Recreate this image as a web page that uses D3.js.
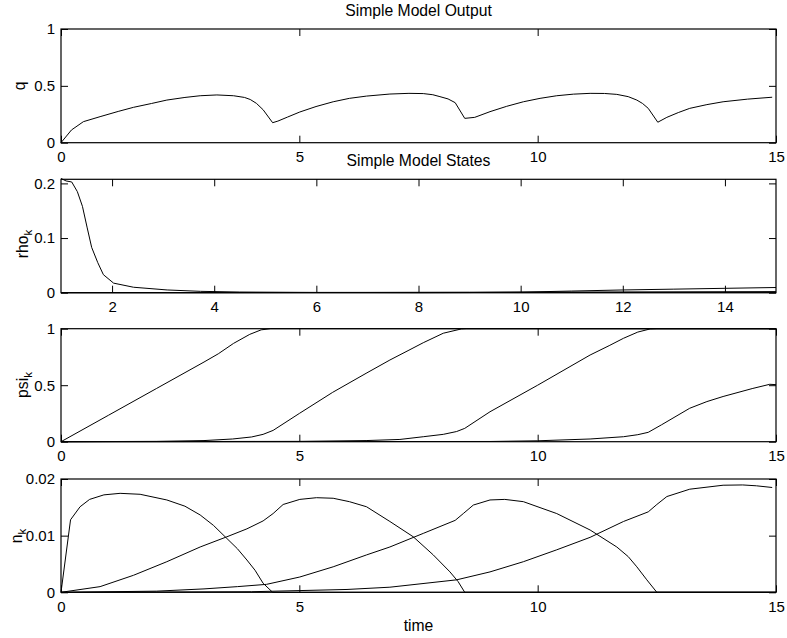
<!DOCTYPE html>
<html><head><meta charset="utf-8">
<script src="https://cdn.jsdelivr.net/npm/d3@7"></script>
<style>
html,body{margin:0;padding:0;background:#fff;}
svg{display:block;font-family:"Liberation Sans",Arial,Helvetica,sans-serif;}
</style></head>
<body>
<svg id="chart" width="787" height="638"></svg>
<script>
// ---------- data ----------
const titleTop = "Simple Model Output";
const titleStates = "Simple Model States";
const xLabel = "time";

const qSeries = [[0,0],[0.22,0.112],[0.47,0.185],[0.82,0.229],[1.2,0.275],[1.52,0.311],[1.9,0.345],[2.22,0.375],[2.6,0.398],[2.92,0.413],[3.27,0.42],[3.62,0.413],[3.85,0.398],[3.97,0.38],[4.1,0.346],[4.24,0.29],[4.44,0.176],[4.55,0.19],[4.75,0.225],[5.01,0.27],[5.35,0.318],[5.71,0.36],[6.05,0.39],[6.41,0.41],[6.9,0.428],[7.3,0.434],[7.6,0.432],[7.8,0.422],[7.95,0.405],[8.12,0.385],[8.27,0.352],[8.47,0.214],[8.68,0.223],[9.0,0.273],[9.35,0.32],[9.7,0.36],[10.05,0.39],[10.4,0.413],[10.75,0.427],[11.1,0.434],[11.4,0.433],[11.66,0.425],[11.9,0.405],[12.08,0.375],[12.2,0.345],[12.32,0.302],[12.52,0.18],[12.71,0.223],[12.95,0.265],[13.19,0.302],[13.55,0.335],[13.89,0.36],[14.4,0.383],[14.92,0.40]];

const rhoSeries1 = [[1.0,0.209],[1.1,0.2045],[1.21,0.2026],[1.32,0.185],[1.42,0.158],[1.51,0.12],[1.6,0.083],[1.72,0.055],[1.83,0.033],[2.03,0.0175],[2.42,0.010],[3.08,0.005],[3.73,0.0025],[4.5,0.0012],[6,0.0005],[8,0.0002],[10,0.0001],[12,0.0001],[15,0.0001]];
const rhoSeries2 = [[1,0],[4,0.0001],[6,0.0004],[9,0.0009],[12,0.0014],[15,0.002]];
const rhoSeries3 = [[1,0],[8,0],[9,0.0003],[10,0.001],[11,0.003],[12,0.005],[13,0.0065],[14,0.008],[15,0.0095]];

const psiSeries1 = [[0,0],[1,0.235],[2,0.47],[3,0.705],[3.3,0.778],[3.62,0.87],[3.96,0.95],[4.2,0.99],[4.4,1.0],[15,1.0]];
const psiSeries2 = [[0,0],[2,0.003],[3,0.01],[3.6,0.024],[4.0,0.042],[4.24,0.065],[4.45,0.10],[5.0,0.25],[5.7,0.437],[6.4,0.605],[6.9,0.723],[7.3,0.81],[7.6,0.876],[8.02,0.96],[8.4,0.998],[8.5,1.0],[15,1.0]];
const psiSeries3 = [[0,0],[5,0.003],[6.4,0.01],[7.11,0.02],[7.6,0.044],[8.02,0.065],[8.3,0.09],[8.47,0.118],[9.0,0.265],[10.0,0.50],[11.1,0.767],[11.5,0.85],[11.8,0.915],[12.1,0.97],[12.36,0.998],[12.5,1.0],[15,1.0]];
const psiSeries4 = [[0,0],[9,0.002],[10,0.008],[11.1,0.024],[11.8,0.044],[12.1,0.062],[12.32,0.083],[12.6,0.15],[13.19,0.296],[13.55,0.355],[13.89,0.40],[14.5,0.47],[14.87,0.508],[15,0.505]];

const nSeries1 = [[0,0],[0.2,0.0128],[0.4,0.0151],[0.6,0.0164],[0.9,0.0172],[1.24,0.01747],[1.66,0.0173],[2.22,0.0163],[2.6,0.0152],[2.92,0.01365],[3.2,0.0118],[3.48,0.0095],[3.7,0.0077],[3.9,0.0057],[4.07,0.0039],[4.24,0.0016],[4.44,0],[15,0]];
const nSeries2 = [[0,0],[0.82,0.001],[1.52,0.003],[2.22,0.0054],[2.92,0.008],[3.48,0.0098],[3.9,0.0112],[4.24,0.0126],[4.45,0.0139],[4.66,0.0155],[5.01,0.0164],[5.36,0.0167],[5.71,0.0166],[6.05,0.016],[6.41,0.0151],[6.9,0.0125],[7.39,0.0098],[7.81,0.0066],[8.16,0.0036],[8.33,0.0019],[8.47,0],[15,0]];
const nSeries3 = [[0,0],[2,0.0002],[3,0.0006],[3.7,0.001],[4.31,0.0014],[5.01,0.0027],[5.71,0.0045],[6.41,0.0066],[6.9,0.008],[7.6,0.0104],[8.27,0.0127],[8.44,0.0139],[8.65,0.0154],[9.0,0.0163],[9.31,0.0164],[9.7,0.016],[10.4,0.0139],[11.1,0.011],[11.66,0.008],[11.9,0.0063],[12.08,0.0045],[12.29,0.0022],[12.5,0],[15,0]];
const nSeries4 = [[0,0],[4,0.0001],[6,0.0005],[6.9,0.0009],[8.3,0.0022],[9.0,0.0036],[9.7,0.0054],[10.4,0.0075],[11.1,0.0097],[11.8,0.0125],[12.32,0.0142],[12.5,0.0155],[12.71,0.0169],[13.19,0.0182],[13.89,0.0189],[14.3,0.01895],[14.59,0.0188],[14.92,0.0185]];

const xTicksMain = [0,5,10,15];
const xTicksRho = [2,4,6,8,10,12,14];
const qTicks = [0,0.5,1];
const rhoTicks = [0,0.1,0.2];
const psiTicks = [0,0.5,1];
const nTicks = [0,0.01,0.02];

// ---------- layout ----------
const svg = d3.select("#chart");
const L = 61, R = 776;
const FS = 15;
const FT = 15.7;

const panels = [
  {top:29, bottom:142.7, xDom:[0,15], yDom:[0,1], xTicks:xTicksMain, yTicks:qTicks,
   series:[qSeries], label:"q", sub:null, labX:25, labY:86},
  {top:179.3, bottom:292.7, xDom:[1,15], yDom:[0,0.2075], xTicks:xTicksRho, yTicks:rhoTicks,
   series:[rhoSeries1,rhoSeries2,rhoSeries3], label:"rho", sub:"k", labX:28, labY:244},
  {top:328.7, bottom:441.7, xDom:[0,15], yDom:[0,1], xTicks:xTicksMain, yTicks:psiTicks,
   series:[psiSeries1,psiSeries2,psiSeries3,psiSeries4], label:"psi", sub:"k", labX:28, labY:385},
  {top:479, bottom:592.3, xDom:[0,15], yDom:[0,0.02], xTicks:xTicksMain, yTicks:nTicks,
   series:[nSeries1,nSeries2,nSeries3,nSeries4], label:"n", sub:"k", labX:22, labY:536}
];

const fmt = d => (d===0?"0":d3.format("~g")(d));

panels.forEach(p => {
  const x = d3.scaleLinear().domain(p.xDom).range([L,R]);
  const y = d3.scaleLinear().domain(p.yDom).range([p.bottom,p.top]);
  const g = svg.append("g");

  const line = d3.line().x(d=>x(d[0])).y(d=>y(d[1]));
  g.selectAll("path.series").data(p.series).join("path")
    .attr("class","series").attr("d",line)
    .attr("fill","none").attr("stroke","#000").attr("stroke-width",1);

  const styleAxis = sel => {
    sel.select(".domain").remove();
    sel.selectAll(".tick line").attr("stroke","#000").attr("stroke-width",1);
    sel.selectAll(".tick text").attr("fill","#000").style("font-size",FS+"px")
      .style("font-family","'Liberation Sans',Arial,Helvetica,sans-serif");
  };

  g.append("g").attr("transform",`translate(0,${p.bottom})`)
    .call(d3.axisBottom(x).tickValues(p.xTicks).tickFormat(fmt).tickSizeInner(-7).tickSizeOuter(0).tickPadding(9))
    .call(styleAxis);
  g.append("g").attr("transform",`translate(0,${p.top})`)
    .call(d3.axisTop(x).tickValues(p.xTicks).tickFormat("").tickSizeInner(-7).tickSizeOuter(0))
    .call(styleAxis);
  g.append("g").attr("transform",`translate(${L},0)`)
    .call(d3.axisLeft(y).tickValues(p.yTicks).tickFormat(fmt).tickSizeInner(-7).tickSizeOuter(0).tickPadding(6))
    .call(styleAxis);
  g.append("g").attr("transform",`translate(${R},0)`)
    .call(d3.axisRight(y).tickValues(p.yTicks).tickFormat("").tickSizeInner(-7).tickSizeOuter(0))
    .call(styleAxis);

  g.append("rect").attr("x",L).attr("y",p.top).attr("width",R-L).attr("height",p.bottom-p.top)
    .attr("fill","none").attr("stroke","#000").attr("stroke-width",1.2);

  const t = g.append("text")
    .attr("transform",`translate(${p.labX},${p.labY}) rotate(-90)`)
    .attr("text-anchor","middle").attr("font-size",FT).attr("fill","#000");
  t.append("tspan").text(p.label);
  if (p.sub) t.append("tspan").attr("dy",4).attr("font-size",11.5).text(p.sub);
});

svg.append("text").attr("x",(L+R)/2).attr("y",16).attr("text-anchor","middle")
  .attr("font-size",FT).text(titleTop);
svg.append("text").attr("x",(L+R)/2).attr("y",166).attr("text-anchor","middle")
  .attr("font-size",FT).text(titleStates);
svg.append("text").attr("x",(L+R)/2).attr("y",631).attr("text-anchor","middle")
  .attr("font-size",FT).text(xLabel);
</script>
</body></html>
